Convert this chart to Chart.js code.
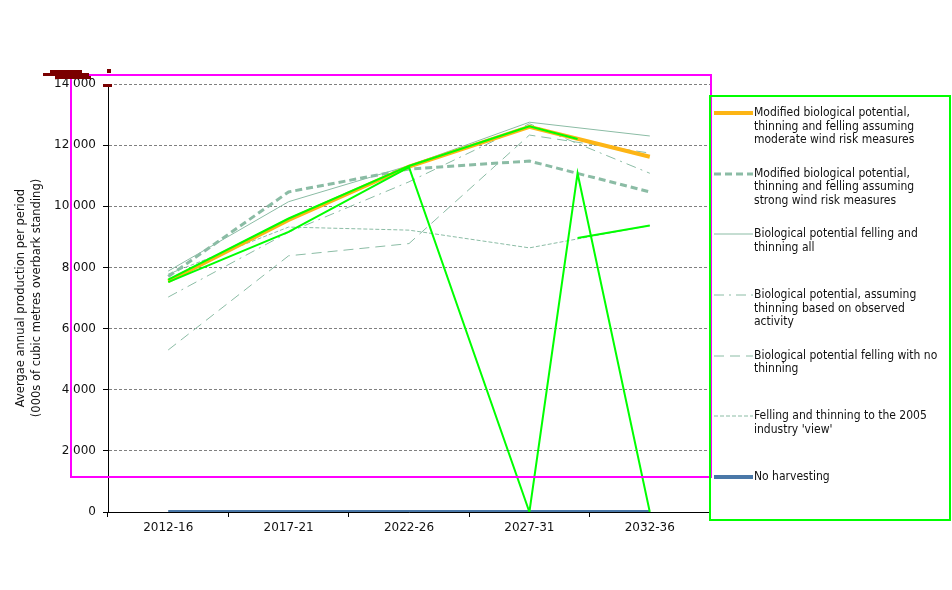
<!DOCTYPE html>
<html>
<head>
<meta charset="utf-8">
<script src="https://cdn.jsdelivr.net/npm/chart.js@4.4.1/dist/chart.umd.min.js"></script>
<style>
  html, body { margin: 0; padding: 0; background: #fff; }
  #wrap { position: relative; width: 952px; height: 590px; overflow: hidden; }
  #chart { position: absolute; left: 0; top: 0; }
  #legend { position: absolute; left: 0; top: 0; width: 952px; height: 590px; pointer-events: none;
            font-family: 'DejaVu Sans Condensed', 'DejaVu Sans', sans-serif; font-size: 12px; color: #111; }
  .item { position: absolute; left: 713px; }
  .item svg { position: absolute; left: 0; top: 0; }
  .item .txt { position: absolute; left: 41px; top: 0; line-height: 13.5px; white-space: nowrap; }
  .box { position: absolute; box-sizing: border-box; border: 2px solid; pointer-events: none; }
  .blot { position: absolute; background: #7a0000; }
</style>
</head>
<body>
<div id="wrap">
  <canvas id="chart" width="952" height="590"></canvas>
  <div id="legend"></div>
  <div class="box" style="left:70px;top:74px;width:642px;height:404px;border-color:#ff00ff"></div>
  <div class="box" style="left:709px;top:95px;width:242px;height:426px;border-color:#00ff00"></div>
  <div class="blot" style="left:50px;top:70px;width:32px;height:4px"></div>
  <div class="blot" style="left:43px;top:73px;width:46px;height:3px"></div>
  <div class="blot" style="left:55px;top:76px;width:36px;height:3px"></div>
  <div class="blot" style="left:107px;top:69px;width:4px;height:4px"></div>
  <div class="blot" style="left:103px;top:84px;width:9px;height:3px"></div>
</div>

<script>
// periods on the x axis
const periods = ['2012-16', '2017-21', '2022-26', '2027-31', '2032-36'];

// average annual production, 000s m3 overbark standing
const moderateWind = [7550, 9550, 11300, 12600, 11620];
const strongWind = [7700, 10470, 11220, 11480, 10470];
const bioAll = [7880, 10150, 11330, 12750, 12300];
const observedThinning = [7030, 9150, 10800, 12700, 11080];
const noThinning = [5300, 8380, 8780, 12330, 11740];
const industryView = [7780, 9320, 9220, 8640, 9370];
const noHarvesting = [0, 0, 0, 0, 0];

// bright green traced lines (x = period index)
const traceA = [[0, 7600], [1, 9600], [2, 11320], [3, 12620], [3.4, 12200]];
const traceB = [[0, 7520], [1, 9160], [2, 11280], [3, 0], [3.4, 11080], [4, 0]];
const traceC = [[3.4, 8960], [4, 9370]];

const yMax = 14000;
const yStep = 2000;

const seriesNames = [
  ['Modified biological potential,', 'thinning and felling assuming', 'moderate wind risk measures'],
  ['Modified biological potential,', 'thinning and felling assuming', 'strong wind risk measures'],
  ['Biological potential felling and', 'thinning all'],
  ['Biological potential, assuming', 'thinning based on observed', 'activity'],
  ['Biological potential felling with no', 'thinning'],
  ['Felling and thinning to the 2005', "industry 'view'"],
  ['No harvesting']
];

const sage = '#8bbca5';
const seriesData = [moderateWind, strongWind, bioAll, observedThinning, noThinning, industryView, noHarvesting];
const seriesStyle = [
  { color: '#fdb515', width: 4, dash: [] },
  { color: sage, width: 3, dash: [7, 4] },
  { color: sage, width: 1, dash: [] },
  { color: sage, width: 1, dash: [10, 5, 2, 5] },
  { color: sage, width: 1, dash: [10, 6] },
  { color: sage, width: 1, dash: [4, 2] },
  { color: '#4a78a8', width: 4, dash: [] }
];

const toPts = arr => arr.map(p => ({ x: p[0], y: p[1] }));
const traceSet = pts => ({
  label: '', data: toPts(pts), xAxisID: 'x2', borderColor: '#00ff00', borderWidth: 2,
  pointRadius: 0, tension: 0, fill: false
});

const datasets = [traceSet(traceA), traceSet(traceB), traceSet(traceC)];
seriesData.forEach((d, i) => {
  const s = seriesStyle[i];
  datasets.push({
    label: seriesNames[i].join(' '), data: d, xAxisID: 'x',
    borderColor: s.color, borderWidth: s.width, borderDash: s.dash,
    pointRadius: 0, tension: 0, fill: false
  });
});

function withCommas(v) {
  return String(Math.round(v)).replace(/\B(?=(\d{3})+(?!\d))/g, ',');
}

const font = { family: "'DejaVu Sans', Verdana, sans-serif", size: 12 };

new Chart(document.getElementById('chart'), {
  type: 'line',
  data: { labels: periods, datasets: datasets },
  options: {
    responsive: false, animation: false, devicePixelRatio: 1,
    layout: { padding: { left: 0, top: 84, right: 242, bottom: 0 } },
    plugins: { legend: { display: false }, tooltip: { enabled: false } },
    scales: {
      x: {
        type: 'category', offset: true,
        grid: { offset: true, drawOnChartArea: false, tickLength: 5, tickColor: '#000' },
        border: { color: '#000', width: 1 },
        ticks: { color: '#111', font: font, padding: 4, maxRotation: 0 },
        afterFit: s => { s.height = 78; }
      },
      x2: { type: 'linear', min: -0.5, max: 4.5, display: false },
      y: {
        min: 0, max: yMax,
        grid: { color: '#808080', tickColor: '#000', tickLength: 5 },
        border: { color: '#000', width: 1, dash: [3, 2] },
        ticks: { stepSize: yStep, color: '#111', font: font, padding: 7, callback: withCommas },
        title: {
          display: true, color: '#111',
          text: ['Avergae annual production per period', '(000s of cubic metres overbark standing)'],
          font: { family: "'DejaVu Sans', Verdana, sans-serif", size: 11.5, lineHeight: 1.4 },
          padding: { top: 13, bottom: 0 }
        },
        afterFit: s => { s.width = 108; }
      }
    }
  }
});

// legend on the right, one entry per series
const legend = document.getElementById('legend');
seriesNames.forEach((lines, i) => {
  const s = seriesStyle[i];
  const item = document.createElement('div');
  item.className = 'item';
  item.style.top = (113 + i * 60.67 - 7) + 'px';
  item.innerHTML =
    `<svg width="40" height="14"><line x1="1" y1="7" x2="40" y2="7" stroke="${s.color}" stroke-width="${s.width}" stroke-dasharray="${s.dash.join(' ')}"/></svg>` +
    `<div class="txt">${lines.join('<br>')}</div>`;
  legend.appendChild(item);
});
</script>
</body>
</html>
